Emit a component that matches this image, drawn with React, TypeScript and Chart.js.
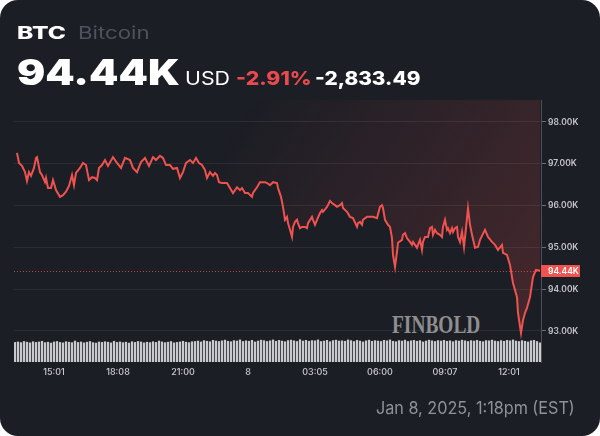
import React, { useEffect, useLayoutEffect, useRef } from "react";
import { Chart, registerables } from "chart.js";
Chart.register(...registerables);

// time index of each sample (from start of the 24h window)
const timeIdx = [
  0, 6, 15, 24, 30, 36, 42, 51, 57, 60, 69, 75, 84, 87, 93, 102, 108, 117, 129, 138,
  147, 156, 165, 171, 177, 189, 198, 207, 216, 225, 234, 240, 246, 255, 264, 273, 288, 300, 312, 324,
  339, 348, 360, 372, 384, 396, 408, 417, 429, 438, 447, 459, 468, 480, 489, 498, 507, 519, 528, 537,
  546, 555, 564, 570, 579, 588, 594, 600, 606, 615, 630, 648, 660, 669, 675, 684, 693, 705, 708, 720,
  729, 744, 750, 759, 768, 780, 783, 792, 798, 804, 810, 813, 819, 825, 828, 834, 840, 843, 849, 855,
  864, 870, 873, 885, 888, 894, 900, 909, 915, 918, 930, 939, 945, 954, 960, 969, 975, 978, 990, 999,
  1008, 1020, 1023, 1029, 1035, 1038, 1050, 1059, 1068, 1080, 1089, 1095, 1098, 1104, 1113, 1119, 1125, 1128, 1134, 1140,
  1143, 1155, 1158, 1164, 1170, 1179, 1185, 1188, 1194, 1200, 1203, 1209, 1215, 1218, 1224, 1233, 1239, 1245, 1248, 1254,
  1260, 1269, 1275, 1278, 1284, 1290, 1293, 1299, 1305, 1308, 1314, 1320, 1323, 1329, 1335, 1341, 1347, 1353, 1359, 1365,
  1374, 1383, 1389, 1404, 1413, 1425, 1434, 1443, 1455, 1458, 1470, 1479, 1488, 1500, 1503, 1512, 1518, 1524, 1530, 1539,
  1548, 1557, 1569,
];

// BTC price in thousands of USD
const prices = [
  97.26, 97.02, 96.95, 96.8, 96.59, 96.8, 96.71, 96.9, 97.14, 97.16, 96.8, 96.73, 96.56, 96.66, 96.42, 96.42, 96.61, 96.37, 96.21, 96.25,
  96.33, 96.47, 96.73, 96.49, 96.78, 96.9, 97.02, 96.97, 96.61, 96.68, 96.66, 96.61, 96.9, 96.97, 97.09, 96.95, 97.16, 97.02, 96.9, 97.14,
  97.09, 96.9, 96.8, 97.04, 97.14, 96.95, 97.16, 97.09, 97.19, 97.14, 96.97, 96.97, 96.88, 96.9, 96.66, 96.8, 97.02, 97.09, 97.02, 97.14,
  97.02, 96.97, 96.85, 96.66, 96.8, 96.71, 96.78, 96.73, 96.56, 96.54, 96.54, 96.3, 96.44, 96.37, 96.42, 96.3, 96.3, 96.21, 96.3, 96.44,
  96.56, 96.56, 96.54, 96.49, 96.56, 96.54, 96.42, 96.21, 95.97, 95.66, 95.73, 95.58, 95.42, 95.25, 95.49, 95.61, 95.66, 95.58, 95.46, 95.49,
  95.49, 95.46, 95.58, 95.73, 95.66, 95.54, 95.66, 95.82, 95.89, 95.85, 95.97, 96.11, 96.06, 96.01, 95.97, 96.01, 96.06, 95.94, 95.85, 95.73,
  95.7, 95.49, 95.58, 95.61, 95.54, 95.66, 95.73, 95.73, 95.73, 95.7, 95.97, 96.01, 95.94, 95.66, 95.54, 95.49, 95.22, 94.82, 94.53, 94.89,
  95.11, 95.18, 95.3, 95.34, 95.22, 95.13, 95.06, 95.13, 95.06, 94.99, 95.06, 95.18, 94.94, 95.13, 95.25, 95.25, 95.46, 95.49, 95.3, 95.42,
  95.34, 95.3, 95.25, 95.49, 95.66, 95.42, 95.46, 95.34, 95.46, 95.37, 95.46, 95.49, 95.25, 95.13, 95.37, 95.01, 95.46, 95.94, 95.54, 95.3,
  94.99, 95.01, 95.18, 95.42, 95.25, 95.13, 95.06, 94.94, 95.06, 94.87, 94.82, 94.58, 94.15, 93.81, 93.43, 92.95, 93.26, 93.43, 93.55, 93.81,
  94.29, 94.46, 94.44,
];

// traded volume per bucket (relative units)
const volumes = [
  86, 88, 85, 90, 87, 84, 89, 86, 88, 91, 85, 87, 83, 88, 90, 86, 84, 89, 87, 85,
  92, 86, 88, 84, 87, 90, 85, 83, 88, 86, 89, 87, 84, 91, 86, 88, 85, 87, 83, 89,
  86, 90, 88, 84, 87, 85, 89, 86, 92, 88, 85, 87, 90, 84, 86, 88, 91, 87, 85, 89,
  90, 92, 88, 94, 91, 89, 95, 92, 90, 93, 96, 91, 89, 94, 92, 97, 90, 93, 91, 95,
  88, 92, 96, 94, 90, 93, 97, 91, 95, 92, 89, 94, 96, 93, 90, 98, 92, 95, 91, 94,
  93, 97, 90, 92, 95, 89, 94, 96, 92, 93, 91, 97, 94, 90, 95, 92, 88, 93, 96, 91,
  94, 92, 90, 95, 93, 97, 91, 89, 94, 92, 96, 90, 93, 95, 91, 94, 88, 92, 96, 93,
  90, 94, 92, 95, 91, 93, 89, 94, 92, 96, 93, 90, 94, 92, 95, 91, 89, 94, 93, 96,
  92, 90, 94, 91, 95, 93, 97, 92, 90, 94, 91, 88, 93, 95, 90, 84,
];
const VOL_START = -6;
const VOL_STEP = 9;

const xTickValues = [111, 303, 498, 693, 894, 1089, 1284, 1476];
const xTickLabels = ["15:01", "18:08", "21:00", "8", "03:05", "06:00", "09:07", "12:01"];
const yTickValues = [93, 94, 95, 96, 97, 98];

const symbol = "BTC";
const assetName = "Bitcoin";
const currentPrice = "94.44K";
const currency = "USD";
const changePct = "-2.91%";
const changeAbs = "-2,833.49";
const timestamp = "Jan 8, 2025, 1:18pm (EST)";

const RED = "#ef5350";
const BG = "#1c1e25";

const priceTagPlugin = {
  id: "priceTag",
  afterDatasetsDraw(chart: any) {
    const { ctx, chartArea } = chart;
    const last = prices[prices.length - 1];
    const y = chart.scales.y.getPixelForValue(last);
    ctx.save();
    ctx.strokeStyle = "rgba(239,83,80,0.75)";
    ctx.lineWidth = 1;
    ctx.setLineDash([1, 2]);
    ctx.beginPath();
    ctx.moveTo(chartArea.left, Math.round(y) + 0.5);
    ctx.lineTo(chartArea.right, Math.round(y) + 0.5);
    ctx.stroke();
    ctx.restore();
  },
  afterDraw(chart: any) {
    const { ctx, chartArea } = chart;
    const last = prices[prices.length - 1];
    const y = chart.scales.y.getPixelForValue(last);
    ctx.save();
    ctx.fillStyle = RED;
    ctx.fillRect(chartArea.right, Math.round(y) - 6, 39, 12);
    ctx.fillStyle = "#ffffff";
    ctx.font = "600 8.5px Inter";
    ctx.textBaseline = "middle";
    ctx.textAlign = "left";
    ctx.fillText(last.toFixed(2) + "K", chartArea.right + 7, Math.round(y) + 0.5);
    ctx.restore();
  },
};

function Txt(props: {
  left: number;
  baseline: number;
  size: number;
  weight: number;
  color: string;
  width?: number;
  family?: string;
  children: any;
}) {
  const ref = useRef<HTMLSpanElement>(null);
  useLayoutEffect(() => {
    const el = ref.current;
    if (!el) return;
    el.style.transform = "";
    const w = el.offsetWidth;
    if (props.width && w) el.style.transform = `scaleX(${props.width / w})`;
  });
  return (
    <span
      ref={ref}
      style={{
        position: "absolute",
        left: props.left,
        top: props.baseline - 0.86 * props.size,
        fontSize: props.size,
        lineHeight: 1,
        fontWeight: props.weight,
        color: props.color,
        fontFamily: props.family || "Inter, sans-serif",
        whiteSpace: "nowrap",
        transformOrigin: "left center",
        display: "inline-block",
      }}
    >
      {props.children}
    </span>
  );
}

export default function App() {
  const canvasRef = useRef<HTMLCanvasElement>(null);

  useEffect(() => {
    document.body.style.margin = "0";
    document.body.style.background = "#ffffff";
    const canvas = canvasRef.current;
    if (!canvas) return;
    const chart = new Chart(canvas, {
      type: "line",
      data: {
        datasets: [
          {
            type: "line",
            data: timeIdx.map((t, i) => ({ x: t, y: prices[i] })),
            borderColor: RED,
            borderWidth: 2,
            pointRadius: 0,
            tension: 0,
            fill: "end",
            backgroundColor: (c: any) => {
              const ch = c.chart;
              const area = ch.chartArea;
              if (!area) return "rgba(0,0,0,0)";
              const w = area.right - area.left;
              const h = area.bottom - area.top;
              const g = ch.ctx.createLinearGradient(
                area.left + 0.45 * w,
                area.top,
                area.right,
                area.top + 0.75 * h
              );
              g.addColorStop(0, "rgba(239,83,80,0)");
              g.addColorStop(1, "rgba(239,83,80,0.19)");
              return g;
            },
            yAxisID: "y",
            order: 1,
          } as any,
          {
            type: "bar",
            data: volumes.map((v, i) => ({ x: VOL_START + i * VOL_STEP, y: v })),
            backgroundColor: "rgba(220,221,224,0.9)",
            barThickness: 1.6,
            yAxisID: "yVol",
            order: 2,
          } as any,
        ],
      },
      options: {
        animation: false,
        responsive: false,
        maintainAspectRatio: false,
        layout: { padding: { left: 14, top: 100, right: 0, bottom: 0 } },
        plugins: { legend: { display: false }, tooltip: { enabled: false } },
        scales: {
          x: {
            type: "linear",
            min: -9,
            max: 1572,
            offset: false,
            grid: { display: false, drawTicks: false },
            border: { display: false },
            afterBuildTicks: (s: any) => {
              s.ticks = xTickValues.map((v) => ({ value: v }));
            },
            afterFit: (s: any) => {
              s.height = 74;
            },
            ticks: {
              autoSkip: false,
              maxRotation: 0,
              padding: 5,
              color: "#c9cbcf",
              font: { family: "Inter", size: 9, weight: 500 },
              callback: (v: any) => {
                const i = xTickValues.indexOf(Number(v));
                return i >= 0 ? xTickLabels[i] : "";
              },
            },
          },
          y: {
            type: "linear",
            position: "right",
            min: 92.258,
            max: 98.526,
            afterBuildTicks: (s: any) => {
              s.ticks = yTickValues.map((v) => ({ value: v }));
            },
            afterFit: (s: any) => {
              s.width = 59;
            },
            grid: {
              color: "rgba(255,255,255,0.07)",
              tickColor: "#6a6d72",
              tickLength: 5,
            },
            border: { display: true, color: "#4d5056", width: 1 },
            ticks: {
              padding: 2,
              color: "#c3c5c9",
              font: { family: "Inter", size: 8.5, weight: 600 },
              callback: (v: any) => Number(v).toFixed(2) + "K",
            },
          },
          yVol: {
            type: "linear",
            display: false,
            min: 0,
            max: 1150,
          },
        },
      } as any,
      plugins: [priceTagPlugin],
    });
    return () => chart.destroy();
  }, []);

  return (
    <div style={{ position: "relative", width: 600, height: 436, background: "#ffffff" }}>
      <div
        style={{
          position: "absolute",
          left: 0,
          top: 0,
          width: 600,
          height: 436,
          background: BG,
          borderRadius: 18,
          overflow: "hidden",
        }}
      >
        <Txt left={392} baseline={334} size={26} weight={700} color="#8e8e8e" width={88} family="'Liberation Serif', serif">
          FINBOLD
        </Txt>
        <canvas
          ref={canvasRef}
          width={600}
          height={436}
          style={{ position: "absolute", left: 0, top: 0, width: 600, height: 436 }}
        />
        <Txt left={17} baseline={39.5} size={17} weight={800} color="#ffffff" width={49}>
          {symbol}
        </Txt>
        <Txt left={78} baseline={39.5} size={17} weight={400} color="#4f525a" width={72}>
          {assetName}
        </Txt>
        <Txt left={17} baseline={85} size={35} weight={900} color="#ffffff" width={163}>
          {currentPrice}
        </Txt>
        <Txt left={185} baseline={85} size={19} weight={400} color="#ffffff" width={45}>
          {currency}
        </Txt>
        <Txt left={236} baseline={85} size={19} weight={800} color="#ea4a4e" width={76}>
          {changePct}
        </Txt>
        <Txt left={315} baseline={85} size={19} weight={800} color="#ffffff" width={105}>
          {changeAbs}
        </Txt>
        <Txt left={376} baseline={414.5} size={17} weight={400} color="#8f9297" width={199}>
          {timestamp}
        </Txt>
      </div>
    </div>
  );
}
